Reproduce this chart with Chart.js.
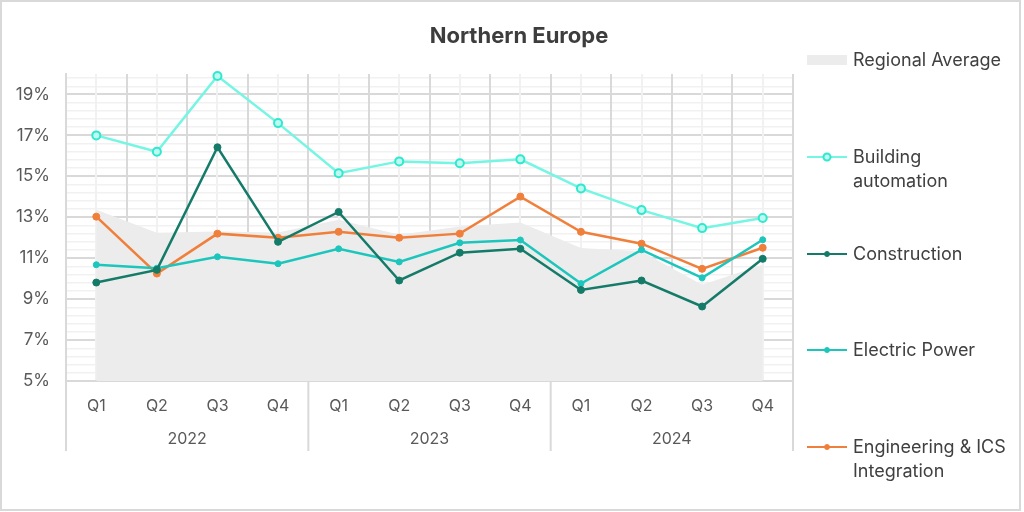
<!DOCTYPE html>
<html>
<head>
<meta charset="utf-8">
<script src="https://cdn.jsdelivr.net/npm/chart.js@4.4.1/dist/chart.umd.min.js"></script>
<style>
  html, body { margin: 0; padding: 0; background: #fff; }
  #wrap { position: relative; width: 1024px; height: 512px; font-family: Inter, "Noto Sans", sans-serif; }
  #frame { position: absolute; left: 0; top: 0; width: 1021px; height: 511px; box-sizing: border-box;
           border: 2px solid #d9d9d9; pointer-events: none; }
  #title { position: absolute; left: 319px; width: 400px; top: 22px; text-align: center;
           font-size: 22px; font-weight: 700; color: #3d3d3d; }
  #legend { position: absolute; left: 807px; top: 0; }
  .item { position: absolute; left: 0; display: flex; align-items: flex-start; }
  .item svg { flex: none; margin-top: 2px; }
  .item span { display: block; width: 166px; margin-left: 6px; font-size: 18px; line-height: 24px; color: #404040; }
  .item:nth-child(1) { top: 48px; }
  .item:nth-child(2) { top: 145px; }
  .item:nth-child(3) { top: 242px; }
  .item:nth-child(4) { top: 338px; }
  .item:nth-child(5) { top: 435px; }
</style>
</head>
<body>
<div id="wrap">
  <canvas id="chart"></canvas>
  <div id="title">Northern Europe</div>
  <div id="legend"></div>
  <div id="frame"></div>
</div>
<script>
// data (percent)
const quarters = ['Q1', 'Q2', 'Q3', 'Q4', 'Q1', 'Q2', 'Q3', 'Q4', 'Q1', 'Q2', 'Q3', 'Q4'];
const years = ['2022', '2023', '2024'];
const regionalAverage = [13.37, 12.24, 12.31, 12.26, 12.88, 12.15, 12.55, 12.75, 11.5, 11.33, 9.7, 10.68];
const buildingAutomation = [17.0, 16.2, 19.9, 17.6, 15.15, 15.73, 15.64, 15.83, 14.41, 13.35, 12.47, 12.96];
const construction = [9.81, 10.43, 16.42, 11.8, 13.26, 9.91, 11.27, 11.46, 9.45, 9.91, 8.64, 10.97];
const electricPower = [10.68, 10.51, 11.07, 10.73, 11.46, 10.82, 11.75, 11.89, 9.76, 11.41, 10.04, 11.9];
const engineering = [13.03, 10.25, 12.2, 12.0, 12.29, 12.0, 12.2, 14.01, 12.29, 11.71, 10.48, 11.51];

const yMin = 5, yMax = 20, minorStep = 0.4;

const axisFont = { family: 'Inter, "Noto Sans", sans-serif', size: 16 };

// long separators between years, drawn through the label rows
const yearLines = {
    id: 'yearLines',
    afterDraw(chart) {
        const x = chart.scales.x, yr = chart.scales.year, ctx = chart.ctx;
        ctx.save();
        ctx.strokeStyle = '#d9d9d9';
        ctx.lineWidth = 2;
        for (let j = 0; j <= years.length; j++) {
            const px = x.left + j * x.width / years.length;
            ctx.beginPath();
            ctx.moveTo(px, chart.chartArea.bottom);
            ctx.lineTo(px, yr.bottom);
            ctx.stroke();
        }
        ctx.restore();
    }
};

function lineSet(label, data, color, radius, pointFill, pointBorder) {
    return {
        label, data,
        borderColor: color,
        backgroundColor: color,
        borderWidth: 2.5,
        pointRadius: radius,
        pointHoverRadius: radius,
        pointBackgroundColor: pointFill || color,
        pointBorderColor: pointBorder || color,
        pointBorderWidth: pointBorder ? 2 : 1,
        tension: 0,
        fill: false,
        clip: 8,
        order: 0
    };
}

const datasets = [
    {
        label: 'Regional Average',
        data: regionalAverage,
        borderWidth: 0,
        borderColor: 'rgba(0,0,0,0)',
        backgroundColor: '#ececec',
        pointRadius: 0,
        fill: 'start',
        order: 5
    },
    lineSet('Building automation', buildingAutomation, '#74f6e3', 4, '#bff9f0', '#2fe9cf'),
    lineSet('Construction', construction, '#157b69', 3.5),
    lineSet('Electric Power', electricPower, '#1cc6bc', 3),
    lineSet('Engineering & ICS Integration', engineering, '#f07f3b', 3.5)
];

const chart = new Chart(document.getElementById('chart'), {
    type: 'line',
    data: { labels: quarters, datasets },
    plugins: [yearLines],
    options: {
        responsive: true,
        maintainAspectRatio: false,
        animation: false,
        layout: { padding: { left: 0, right: 231, top: 74, bottom: 61 } },
        plugins: { legend: { display: false }, tooltip: { enabled: false }, title: { display: false } },
        scales: {
            y: {
                min: yMin, max: yMax,
                afterFit: s => { s.width = 66; },
                afterBuildTicks: s => {
                    s.ticks = [];
                    for (let i = 0; yMin + i * minorStep < yMax - 0.01; i++) s.ticks.push({ value: yMin + i * minorStep });
                },
                grid: {
                    drawTicks: false,
                    lineWidth: c => (c.index % 5 === 0 ? 2 : 1.5),
                    color: c => (c.index % 5 === 0 ? '#d9d9d9' : '#f1f1f1')
                },
                border: { display: true, color: '#d9d9d9', width: 2 },
                ticks: {
                    padding: 16,
                    color: '#595959',
                    font: { family: axisFont.family, size: 17 },
                    autoSkip: false,
                    callback: (v, i) => (i % 5 === 0 ? Math.round(v) + '%' : '')
                }
            },
            x: {
                type: 'category',
                position: 'bottom',
                weight: 1,
                offset: true,
                afterFit: s => { s.height = 40; },
                grid: { offset: true, drawTicks: false, color: '#d9d9d9', lineWidth: 2 },
                border: { display: true, color: '#d9d9d9', width: 2 },
                ticks: { padding: 16, color: '#595959', font: axisFont, maxRotation: 0, autoSkip: false }
            },
            year: {
                type: 'category',
                labels: years,
                position: 'bottom',
                weight: 2,
                offset: true,
                afterFit: s => { s.height = 30; },
                grid: { display: false, drawTicks: false },
                border: { display: false },
                ticks: { padding: 9, color: '#595959', font: axisFont, maxRotation: 0 }
            },
            xc: {
                type: 'category',
                labels: quarters,
                position: 'top',
                offset: true,
                afterFit: s => { s.height = 0; },
                grid: { offset: false, drawTicks: false, color: '#f1f1f1', lineWidth: 2 },
                border: { display: false },
                ticks: { display: false }
            }
        }
    }
});

// legend built from the datasets
const legend = document.getElementById('legend');
const legendOrder = [0, 1, 2, 3, 4];
legendOrder.forEach(i => {
    const ds = datasets[i];
    const item = document.createElement('div');
    item.className = 'item';
    let svg;
    if (ds.fill) {
        svg = `<svg width="40" height="20"><rect x="0" y="5" width="40" height="10" fill="${ds.backgroundColor}"/></svg>`;
    } else {
        const r = ds.pointBorderWidth > 1 ? 3.5 : 2.5;
        svg = `<svg width="40" height="20"><line x1="0" y1="10" x2="40" y2="10" stroke="${ds.borderColor}" stroke-width="2"/>` +
              `<circle cx="20" cy="10" r="${r}" fill="${ds.pointBackgroundColor}" stroke="${ds.pointBorderColor}" stroke-width="${ds.pointBorderWidth}"/></svg>`;
    }
    item.innerHTML = svg + `<span>${ds.label.replace('&', '&amp;')}</span>`;
    legend.appendChild(item);
});
</script>
</body>
</html>
